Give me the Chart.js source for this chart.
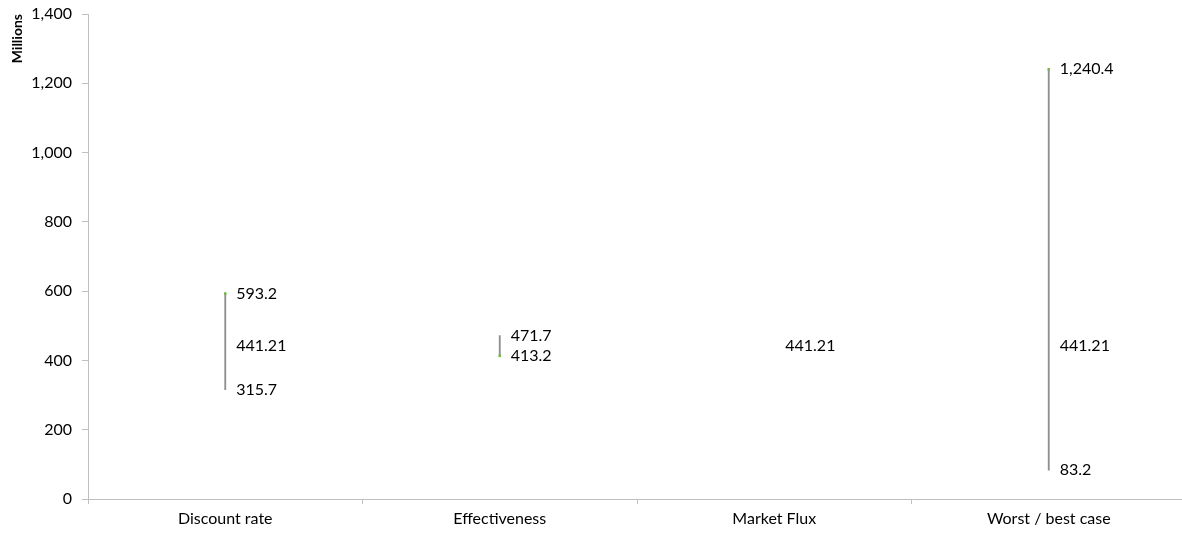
<!DOCTYPE html>
<html>
<head>
<meta charset="utf-8">
<script src="https://cdn.jsdelivr.net/npm/chart.js@4"></script>
<style>
  html, body { margin: 0; padding: 0; background: #fff; overflow: hidden; }
  /* plot area runs slightly past the right edge, as in the original */
  #wrap { width: 1190px; height: 533px; }
</style>
</head>
<body>
<div id="wrap"><canvas id="chart"></canvas></div>
<script>
// chart data
const categories = ['Discount rate', 'Effectiveness', 'Market Flux', 'Worst / best case'];
const highValues = [593.2, 471.7, 441.21, 1240.4];
const lowValues = [315.7, 413.2, 441.21, 83.2];
const baseValues = [441.21, 441.21, 441.21, 441.21];
const markerValues = [593.2, 413.2, null, 1240.4]; // small green end marks
const yTicks = [0, 200, 400, 600, 800, 1000, 1200, 1400];

const FONT = 'Lato, "Open Sans", sans-serif';

const fmt = (v, d) => v.toLocaleString('en-US', { minimumFractionDigits: d, maximumFractionDigits: d });

// draws the value labels to the right of each high-low line
const valueLabels = {
  id: 'valueLabels',
  afterDatasetsDraw(chart) {
    const { ctx, scales: { x, y } } = chart;
    ctx.save();
    ctx.font = '16px ' + FONT;
    ctx.fillStyle = '#000';
    ctx.textAlign = 'left';
    ctx.textBaseline = 'middle';
    categories.forEach((c, i) => {
      const px = x.getPixelForValue(i) + 11;
      const yh = y.getPixelForValue(highValues[i]);
      const yl = y.getPixelForValue(lowValues[i]);
      const yb = y.getPixelForValue(baseValues[i]);
      if (highValues[i] === lowValues[i]) {
        ctx.fillText(fmt(baseValues[i], 2), px, yb);
        return;
      }
      ctx.fillText(fmt(highValues[i], 1), px, yh);
      ctx.fillText(fmt(lowValues[i], 1), px, yl);
      // skip the base label when it would collide with the others
      if (Math.abs(yb - yh) > 16 && Math.abs(yb - yl) > 16) {
        ctx.fillText(fmt(baseValues[i], 2), px, yb);
      }
    });
    ctx.restore();
  }
};

new Chart(document.getElementById('chart'), {
  type: 'bar',
  data: {
    labels: categories,
    datasets: [
      {
        label: 'Range',
        data: categories.map((c, i) => lowValues[i] === highValues[i] ? null : [lowValues[i], highValues[i]]),
        backgroundColor: '#8f8f8f',
        borderWidth: 0,
        barThickness: 1.2,
        order: 1
      },
      {
        type: 'line',
        label: 'Marker',
        data: markerValues,
        showLine: false,
        pointStyle: 'rect',
        pointRadius: 1.8,
        pointBackgroundColor: '#75b843',
        pointBorderWidth: 0,
        order: 0
      }
    ]
  },
  options: {
    responsive: true,
    maintainAspectRatio: false,
    animation: false,
    layout: { padding: { top: 14, right: 0, left: 0, bottom: 0 } },
    plugins: { legend: { display: false }, tooltip: { enabled: false } },
    scales: {
      x: {
        grid: { drawOnChartArea: false, drawTicks: true, tickLength: 5, color: '#bfbfbf', offset: true },
        border: { color: '#bfbfbf' },
        ticks: { color: '#000', font: { family: FONT, size: 16 }, padding: 5 },
        afterFit(scale) {
          scale.height = 34;
          scale.paddingLeft = 0;
          scale.paddingRight = 0;
        }
      },
      y: {
        min: 0,
        max: 1400,
        afterBuildTicks(scale) { scale.ticks = yTicks.map(v => ({ value: v })); },
        grid: { drawOnChartArea: false, drawTicks: true, tickLength: 6, color: '#bfbfbf' },
        border: { color: '#bfbfbf' },
        ticks: {
          color: '#000',
          font: { family: FONT, size: 16 },
          padding: 10,
          callback: v => v.toLocaleString('en-US')
        },
        title: {
          display: true,
          text: 'Millions',
          align: 'end',
          color: '#000',
          font: { family: FONT, size: 14, weight: 'bold' },
          padding: { top: 9, bottom: 0 }
        },
        afterFit(scale) {
          scale.width = 88;
          scale.paddingTop = 0;
          scale.paddingBottom = 0;
        }
      }
    }
  },
  plugins: [valueLabels]
});
</script>
</body>
</html>
